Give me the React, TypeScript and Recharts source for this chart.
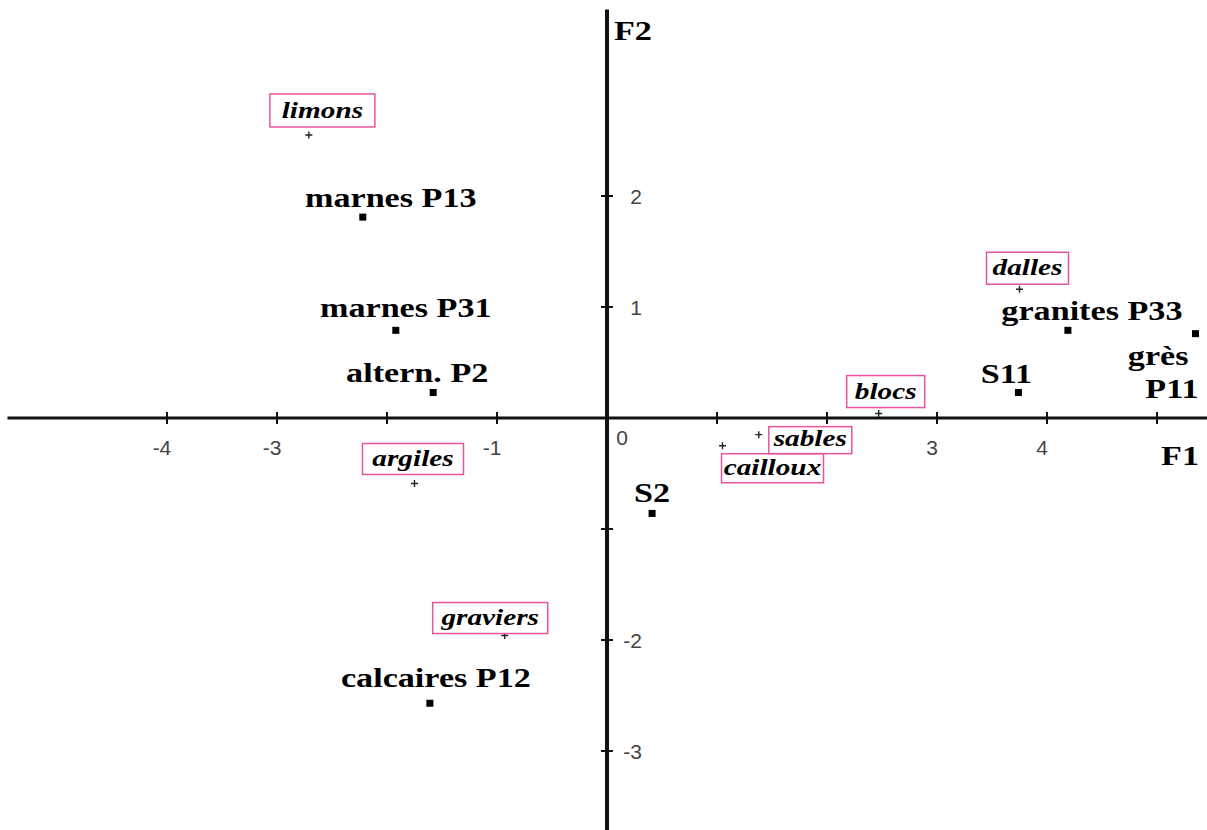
import { ReferenceLine, Scatter, ScatterChart, XAxis, YAxis } from 'recharts'

// sites / lithologies (black squares)
const siteNames = ['marnes P13', 'marnes P31', 'altern. P2', 'calcaires P12', 'S2', 'S11', 'granites P33', 'grès P11']
const siteF1 = [-2.22, -1.92, -1.58, -1.61, 0.41, 3.74, 4.19, 5.35]
const siteF2 = [1.81, 0.79, 0.23, -2.57, -0.86, 0.23, 0.79, 0.76]

// substrate variables (small crosses, boxed italic labels)
const varNames = ['limons', 'argiles', 'graviers', 'cailloux', 'sables', 'blocs', 'dalles']
const varF1 = [-2.71, -1.75, -0.93, 1.05, 1.38, 2.47, 3.75]
const varF2 = [2.55, -0.59, -1.96, -0.25, -0.15, 0.04, 1.16]

const xTicks = [-4, -3, -2, -1, 0, 1, 2, 3, 4, 5]
const xTickLabels = ['-4', '-3', '', '-1', '0', '', '', '3', '4', '']
const yTicks = [2, 1, -1, -2, -3]
const yTickLabels = ['2', '1', '', '-2', '-3']

const X_DOMAIN: [number, number] = [-5.518, 5.4545]
const Y_DOMAIN: [number, number] = [-3.712, 3.766]

const PINK = '#e8559f'
const SERIF = '"Liberation Serif", "Times New Roman", serif'
const SANS = '"Liberation Sans", Arial, sans-serif'
const STRETCH = 1.22

// label offsets relative to the marker, in px
const siteLabelPos: Record<string, { dx: number; dy: number }> = {
  'marnes P13': { dx: 28, dy: -10 },
  'marnes P31': { dx: 10, dy: -13 },
  'altern. P2': { dx: -16, dy: -10 },
  'calcaires P12': { dx: 6, dy: -16 },
  S2: { dx: 0, dy: -11 },
  S11: { dx: -12, dy: -9 },
  'granites P33': { dx: 24, dy: -10 },
}

const varBox: Record<string, { bx: number; by: number; bw: number; bh: number }> = {
  limons: { bx: -39, by: -41, bw: 105, bh: 33 },
  argiles: { bx: -52, by: -40, bw: 101, bh: 31 },
  graviers: { bx: -72, by: -33, bw: 115, bh: 31 },
  cailloux: { bx: -1, by: 8, bw: 102, bh: 29 },
  sables: { bx: 10, by: -8, bw: 83, bh: 27 },
  blocs: { bx: -32, by: -38, bw: 78, bh: 32 },
  dalles: { bx: -33, by: -37, bw: 82, bh: 32 },
}

const sites = siteNames.map((name, i) => ({ name, x: siteF1[i], y: siteF2[i] }))
const variables = varNames.map((name, i) => ({ name, x: varF1[i], y: varF2[i] }))
const xTickData = xTicks.map((v, i) => ({ x: v, y: 0, label: xTickLabels[i] }))
const yTickData = yTicks.map((v, i) => ({ x: 0, y: v, label: yTickLabels[i] }))

function StretchText({ x, y, children, size, anchor = 'middle', italic = false }: any) {
  return (
    <text
      transform={`translate(${x},${y}) scale(${STRETCH},1)`}
      textAnchor={anchor}
      fontFamily={SERIF}
      fontWeight="bold"
      fontStyle={italic ? 'italic' : 'normal'}
      fontSize={size}
      fill="#000"
    >
      {children}
    </text>
  )
}

function SiteShape(props: any) {
  const { cx, cy, payload } = props
  const sq = <rect x={cx - 3.5} y={cy - 3.5} width={7} height={7} fill="#000" />
  if (payload.name === 'grès P11') {
    return (
      <g>
        {sq}
        <StretchText x={cx - 7} y={cy + 31} size={28} anchor="end">grès</StretchText>
        <StretchText x={cx + 3} y={cy + 64} size={28} anchor="end">P11</StretchText>
      </g>
    )
  }
  const p = siteLabelPos[payload.name] ?? { dx: 0, dy: -10 }
  return (
    <g>
      {sq}
      <StretchText x={cx + p.dx} y={cy + p.dy} size={28}>{payload.name}</StretchText>
    </g>
  )
}

function VarShape(props: any) {
  const { cx, cy, payload } = props
  const b = varBox[payload.name]
  return (
    <g>
      <path d={`M${cx - 3.5},${cy}H${cx + 3.5}M${cx},${cy - 3.5}V${cy + 3.5}`} stroke="#222" strokeWidth={1.4} />
      <rect x={cx + b.bx} y={cy + b.by} width={b.bw} height={b.bh} fill="#fff" stroke={PINK} strokeWidth={1.5} />
      <StretchText x={cx + b.bx + b.bw / 2} y={cy + b.by + b.bh * 0.72} size={24} italic>
        {payload.name}
      </StretchText>
    </g>
  )
}

function XTickShape(props: any) {
  const { cx, cy, payload } = props
  if (payload.x === 0) {
    return (
      <text x={cx + 15} y={cy + 27} textAnchor="middle" fontFamily={SANS} fontSize={21} fill="#444">
        {payload.label}
      </text>
    )
  }
  return (
    <g>
      <line x1={cx} y1={cy - 6} x2={cx} y2={cy + 6} stroke="#111" strokeWidth={2} />
      {payload.label && (
        <text x={cx - 5} y={cy + 37} textAnchor="middle" fontFamily={SANS} fontSize={21} fill="#444">
          {payload.label}
        </text>
      )}
    </g>
  )
}

function YTickShape(props: any) {
  const { cx, cy, payload } = props
  return (
    <g>
      <line x1={cx - 6} y1={cy} x2={cx + 6} y2={cy} stroke="#111" strokeWidth={2} />
      {payload.label && (
        <text x={cx + 35} y={cy + 8} textAnchor="end" fontFamily={SANS} fontSize={21} fill="#444">
          {payload.label}
        </text>
      )}
    </g>
  )
}

function AxisName({ viewBox, text, horizontal }: any) {
  if (!viewBox) return null
  const { x, y, width } = viewBox
  return horizontal ? (
    <StretchText x={x + width - 27} y={y + 47} size={28}>{text}</StretchText>
  ) : (
    <StretchText x={x + 7} y={y + 30} size={28} anchor="start">{text}</StretchText>
  )
}

export default function App() {
  return (
    <div style={{ position: 'absolute', left: 0, top: 0, background: '#fff' }}>
      <ScatterChart width={1207} height={830} margin={{ top: 0, right: 0, bottom: 0, left: 0 }}>
        <XAxis type="number" dataKey="x" domain={X_DOMAIN} allowDataOverflow hide />
        <YAxis type="number" dataKey="y" domain={Y_DOMAIN} allowDataOverflow hide />
        <ReferenceLine
          segment={[{ x: -5.45, y: 0 }, { x: 5.4545, y: 0 }]}
          stroke="#111"
          strokeWidth={3}
          label={<AxisName text="F1" horizontal />}
        />
        <ReferenceLine
          segment={[{ x: 0, y: -3.712 }, { x: 0, y: 3.68 }]}
          stroke="#111"
          strokeWidth={4}
          label={<AxisName text="F2" />}
        />
        <Scatter data={xTickData} shape={XTickShape} isAnimationActive={false} />
        <Scatter data={yTickData} shape={YTickShape} isAnimationActive={false} />
        <Scatter data={sites} shape={SiteShape} isAnimationActive={false} />
        <Scatter data={variables} shape={VarShape} isAnimationActive={false} />
      </ScatterChart>
    </div>
  )
}
